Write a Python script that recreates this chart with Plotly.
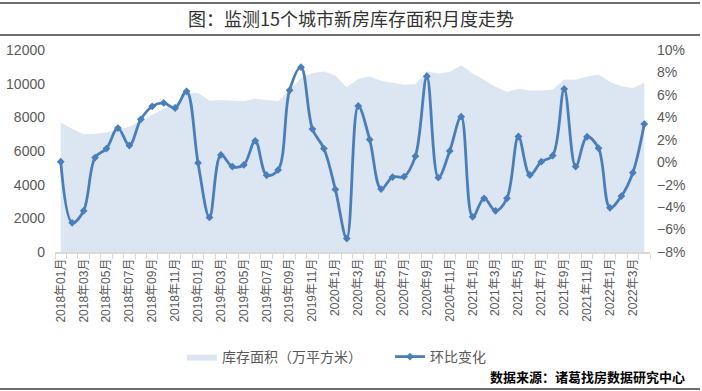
import plotly.graph_objects as go

months = [
    "2018年01月", "2018年02月", "2018年03月", "2018年04月", "2018年05月", "2018年06月",
    "2018年07月", "2018年08月", "2018年09月", "2018年10月", "2018年11月", "2018年12月",
    "2019年01月", "2019年02月", "2019年03月", "2019年04月", "2019年05月", "2019年06月",
    "2019年07月", "2019年08月", "2019年09月", "2019年10月", "2019年11月", "2019年12月",
    "2020年1月", "2020年2月", "2020年3月", "2020年4月", "2020年5月", "2020年6月",
    "2020年7月", "2020年8月", "2020年9月", "2020年10月", "2020年11月", "2020年12月",
    "2021年1月", "2021年2月", "2021年3月", "2021年4月", "2021年5月", "2021年6月",
    "2021年7月", "2021年8月", "2021年9月", "2021年10月", "2021年11月", "2021年12月",
    "2022年1月", "2022年2月", "2022年3月", "2022年4月",
]

inventory = [
    7700, 7320, 7000, 7020, 7100, 7260, 7440, 7800, 8150, 8510, 8790, 9460,
    9440, 8980, 9030, 8990, 8950, 9100, 9030, 8950, 9620, 10340, 10630, 10730,
    10490, 9780, 10280, 10430, 10180, 10080, 9940, 9980, 10730, 10610, 10690, 11100,
    10600, 10220, 9820, 9500, 9700, 9590, 9590, 9650, 10250, 10230, 10430, 10550,
    10120, 9840, 9740, 10060,
]

mom_change = [
    0.05, -5.40, -4.33, 0.41, 1.22, 3.04, 1.49, 3.82, 4.98, 5.28, 4.83, 6.32,
    -0.06, -4.92, 0.65, -0.39, -0.24, 1.91, -1.16, -0.69, 6.41, 8.47, 2.95, 1.22,
    -2.42, -6.80, 5.01, 2.02, -2.39, -1.32, -1.29, 0.54, 7.66, -1.38, 1.01, 4.06,
    -4.87, -3.22, -4.33, -3.22, 2.29, -1.14, 0.05, 0.59, 6.53, -0.39, 2.27, 1.25,
    -4.06, -3.02, -0.93, 3.40,
]

left_ticks = [0, 2000, 4000, 6000, 8000, 10000, 12000]
right_ticks = [-8, -6, -4, -2, 0, 2, 4, 6, 8, 10]

tick_text = [m if i % 2 == 0 else "" for i, m in enumerate(months)]
left_text = [str(v) for v in left_ticks]
right_text = [("\u2212" if v < 0 else "") + f"{abs(v)}%" for v in right_ticks]

FONT = "Liberation Sans, Noto Sans CJK SC, sans-serif"
CJK = "Noto Sans CJK SC, sans-serif"
GRAY = "#595959"

fig = go.Figure()
fig.add_trace(go.Scatter(
    x=months, y=inventory, name="库存面积（万平方米）",
    mode="lines", fill="tozeroy", fillcolor="#DCE6F2",
    line=dict(width=0, color="#DCE6F2"), yaxis="y",
))
fig.add_trace(go.Scatter(
    x=months, y=mom_change, name="环比变化",
    mode="lines+markers", line=dict(color="#4A7EBB", width=2.8, shape="spline", smoothing=1),
    marker=dict(symbol="diamond", size=6, color="#4A7EBB"), yaxis="y2",
))

W, H = 702, 391
L, R, T, B = 55, 52, 50, 139
pw, ph = W - L - R, H - T - B

def px_x(x):
    return (x - L) / pw

def px_y(y):
    return (H - B - y) / ph

fig.update_layout(
    width=W, height=H,
    margin=dict(l=L, r=R, t=T, b=B, autoexpand=False),
    paper_bgcolor="white", plot_bgcolor="white",
    font=dict(family=FONT, size=13, color=GRAY),
    showlegend=True,
    legend=dict(
        orientation="h", x=px_x(182), y=px_y(341), xanchor="left", yanchor="top",
        font=dict(family=CJK, size=14, color=GRAY),
        entrywidth=163, entrywidthmode="pixels", itemwidth=30,
        bgcolor="rgba(0,0,0,0)",
    ),
    xaxis=dict(
        type="category", tickmode="array", tickvals=months, ticktext=tick_text,
        tickson="boundaries", ticks="outside", ticklen=5, tickcolor="#D9D9D9",
        showline=True, linecolor="#D9D9D9", linewidth=1.5, automargin=False,
        tickangle=-90, tickfont=dict(family=FONT, size=12, color=GRAY),
        showgrid=False, zeroline=False, range=[-0.5, len(months) - 0.5],
    ),
    yaxis=dict(
        range=[0, 12000], tickmode="array", tickvals=left_ticks, ticktext=left_text,
        showgrid=False, zeroline=False, automargin=False,
        showline=False, ticks="", ticklabelstandoff=9,
        tickfont=dict(family=FONT, size=14, color=GRAY),
    ),
    yaxis2=dict(
        range=[-8, 10], tickmode="array", tickvals=right_ticks, ticktext=right_text,
        overlaying="y", side="right", automargin=False,
        showgrid=False, zeroline=False, showline=False, ticks="", ticklabelstandoff=6,
        tickfont=dict(family=FONT, size=14, color=GRAY),
    ),
    shapes=[
        dict(type="line", xref="paper", yref="paper", x0=px_x(0), x1=px_x(700),
             y0=px_y(3), y1=px_y(3), line=dict(color="#6E6E6E", width=2)),
        dict(type="line", xref="paper", yref="paper", x0=px_x(0), x1=px_x(700),
             y0=px_y(35), y1=px_y(35), line=dict(color="#6E6E6E", width=2)),
        dict(type="line", xref="paper", yref="paper", x0=px_x(0), x1=px_x(700),
             y0=px_y(389), y1=px_y(389), line=dict(color="#6E6E6E", width=2)),
    ],
    annotations=[
        dict(text="图：监测15个城市新房库存面积月度走势", xref="paper", yref="paper",
             x=px_x(351), y=px_y(18), xanchor="center", yanchor="middle", showarrow=False,
             font=dict(family=CJK, size=18, color="#333333")),
        dict(text="<b>数据来源：诸葛找房数据研究中心</b>", xref="paper", yref="paper",
             x=px_x(687), y=px_y(376), xanchor="right", yanchor="middle", showarrow=False,
             font=dict(family=CJK, size=13, color="#000000")),
    ],
)

fig.write_html("out.html", config={"displayModeBar": False},
               post_script="document.body.style.margin='0';")
